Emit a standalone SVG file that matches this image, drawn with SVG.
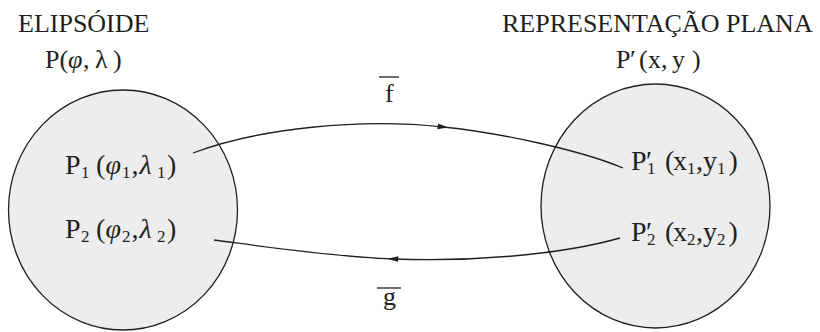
<svg xmlns="http://www.w3.org/2000/svg" width="820" height="332" viewBox="0 0 820 332">
<style>
text{font-family:"Liberation Serif","Times New Roman",serif;fill:#231f20;font-size:26px}
.lbl{font-size:28px}
.it{font-style:italic}
.sub{font-size:17px}
.blob{fill:#ededed;stroke:#231f20;stroke-width:1.3}
.conn{fill:none;stroke:#231f20;stroke-width:1.3}
.bar{stroke:#231f20;stroke-width:1.3}
</style>
<defs>
<marker id="arr" viewBox="0 0 12 10" refX="6" refY="5" markerWidth="11" markerHeight="9" markerUnits="userSpaceOnUse" orient="auto">
<path d="M0,1.8 L12,5 L0,8.2 Z" fill="#231f20"/>
</marker>
</defs>
<g id="titles">
<text x="18" y="32">ELIPSÓIDE</text>
<text x="502" y="32">REPRESENTAÇÃO PLANA</text>
<text y="68"><tspan x="45">P</tspan><tspan x="59.5">(</tspan><tspan x="68" class="it">φ</tspan><tspan x="83">,</tspan><tspan x="95">λ</tspan><tspan x="113">)</tspan></text>
<text y="68"><tspan x="616">P</tspan><tspan x="630">′</tspan><tspan x="639">(</tspan><tspan x="648">x</tspan><tspan x="661">,</tspan><tspan x="672">y</tspan><tspan x="692">)</tspan></text>
</g>
<g id="ellipsoid">
<ellipse class="blob" cx="123" cy="210" rx="114.5" ry="120"/>
<text class="lbl" y="174"><tspan x="65">P</tspan><tspan x="81" y="178" class="sub">1</tspan><tspan x="96" y="174">(</tspan><tspan x="105.5" class="it">φ</tspan><tspan x="122" y="178" class="sub">1</tspan><tspan x="131.5" y="174">,</tspan><tspan x="139.5" class="it">λ</tspan><tspan x="157" y="178" class="sub">1</tspan><tspan x="167" y="174">)</tspan></text>
<text class="lbl" y="238"><tspan x="65">P</tspan><tspan x="81" y="242" class="sub">2</tspan><tspan x="96" y="238">(</tspan><tspan x="105.5" class="it">φ</tspan><tspan x="122" y="242" class="sub">2</tspan><tspan x="131.5" y="238">,</tspan><tspan x="139.5" class="it">λ</tspan><tspan x="157" y="242" class="sub">2</tspan><tspan x="167" y="238">)</tspan></text>
</g>
<g id="plane">
<ellipse class="blob" cx="655.5" cy="206" rx="114.5" ry="122"/>
<text class="lbl" y="170"><tspan x="631">P</tspan><tspan x="646">′</tspan><tspan x="647" y="174" class="sub">1</tspan><tspan x="665" y="170">(</tspan><tspan x="673">x</tspan><tspan x="687" y="174" class="sub">1</tspan><tspan x="696" y="170">,</tspan><tspan x="703">y</tspan><tspan x="717" y="174" class="sub">1</tspan><tspan x="728.5" y="170">)</tspan></text>
<text class="lbl" y="241"><tspan x="631">P</tspan><tspan x="646">′</tspan><tspan x="647" y="245" class="sub">2</tspan><tspan x="665" y="241">(</tspan><tspan x="673">x</tspan><tspan x="687" y="245" class="sub">2</tspan><tspan x="696" y="241">,</tspan><tspan x="703">y</tspan><tspan x="717" y="245" class="sub">2</tspan><tspan x="728.5" y="241">)</tspan></text>
</g>
<g id="connectors">
<path class="conn" marker-mid="url(#arr)" d="M193,153 C260,128 360,118 443,127 C501,133 580,150 623,168"/>
<path class="conn" marker-mid="url(#arr)" d="M620,238 C560,255 470,262 393,259 C331,256.6 260,246 214,240"/>
<g id="label-f">
<line class="bar" x1="379" y1="77" x2="399" y2="77"/>
<text x="385" y="102">f</text>
</g>
<g id="label-g">
<line class="bar" x1="377" y1="288" x2="401" y2="288"/>
<text x="383" y="305">g</text>
</g>
</g>
</svg>
